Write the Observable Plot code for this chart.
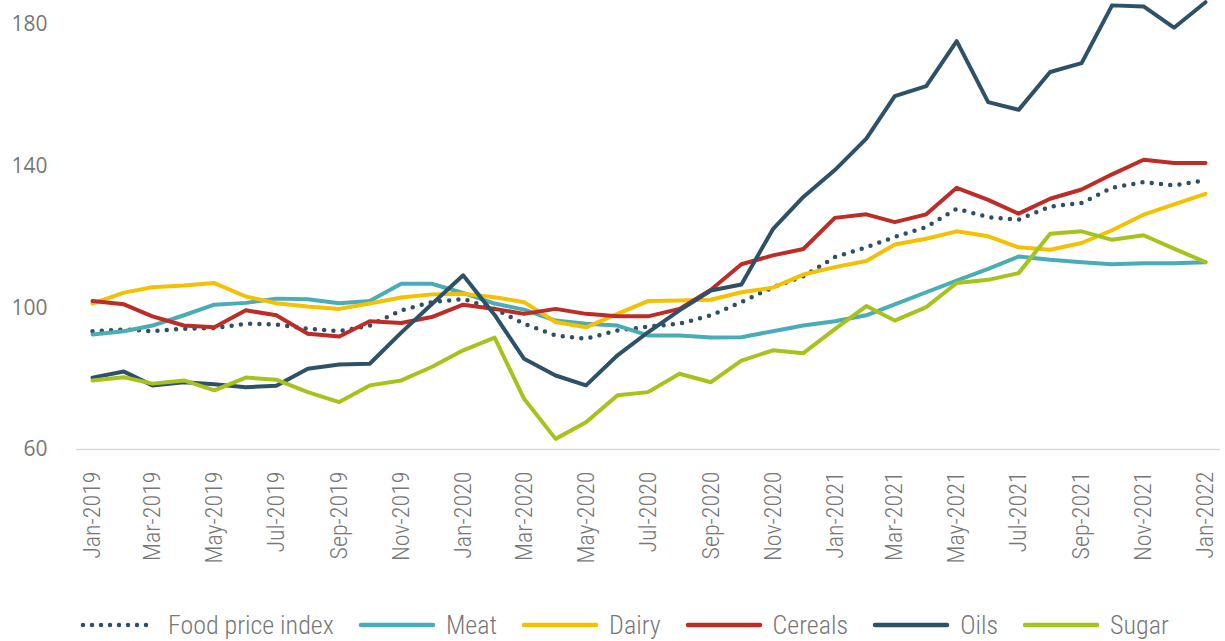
<!DOCTYPE html>
<html>
<head>
<meta charset="utf-8">
<script src="https://cdn.jsdelivr.net/npm/d3@7"></script>
<script src="https://cdn.jsdelivr.net/npm/@observablehq/plot@0.6"></script>
<style>
  html, body { margin: 0; padding: 0; background: #fff; }
  body { width: 1225px; height: 641px; overflow: hidden; position: relative;
         font-family: "Roboto Condensed", "Liberation Sans Narrow", "DejaVu Sans Condensed", sans-serif; font-weight: 300; }
  #chart { position: absolute; left: 0; top: 0; }
  #legend { position: absolute; left: 80px; top: 606px; height: 38px; display: flex; align-items: center;
            font-size: 26px; color: #777; white-space: nowrap; }
  .item { display: flex; align-items: center; margin-right: 24px; }
  .item svg { margin-right: 10px; }
  .yax text { font-family: "Open Sans", "Noto Sans", sans-serif; font-weight: 400; }
</style>
</head>
<body>
<div id="chart"></div>
<div id="legend"></div>
<script>
const months = [
  "2019-01","2019-02","2019-03","2019-04","2019-05","2019-06","2019-07","2019-08","2019-09","2019-10","2019-11","2019-12",
  "2020-01","2020-02","2020-03","2020-04","2020-05","2020-06","2020-07","2020-08","2020-09","2020-10","2020-11","2020-12",
  "2021-01","2021-02","2021-03","2021-04","2021-05","2021-06","2021-07","2021-08","2021-09","2021-10","2021-11","2021-12",
  "2022-01"
];
const tickMonths = ["2019-01","2019-03","2019-05","2019-07","2019-09","2019-11","2020-01","2020-03","2020-05","2020-07","2020-09","2020-11","2021-01","2021-03","2021-05","2021-07","2021-09","2021-11","2022-01"];
const yTicks = [60, 100, 140, 180];

const seriesNames = ["Food price index", "Meat", "Dairy", "Cereals", "Oils", "Sugar"];
const seriesColors = ["#2f4f66", "#4aacb7", "#f3c100", "#bd2c26", "#2f5168", "#a5c41b"];

const foodPriceIndex = [93.4, 93.9, 93.4, 94.1, 94.3, 95.5, 95.3, 94.1, 93.4, 95.0, 99.3, 101.6,
  102.5, 99.7, 95.5, 92.2, 91.3, 93.6, 94.7, 95.5, 97.9, 101.6, 105.8, 108.9,
  114.3, 117.1, 120.0, 122.8, 128.0, 125.6, 124.9, 128.6, 129.6, 133.9, 135.5, 134.6, 136.0];
const meat = [92.5, 93.4, 95.0, 97.9, 100.9, 101.4, 102.6, 102.4, 101.3, 101.9, 106.8, 106.8,
  104.2, 101.2, 99.5, 96.4, 95.5, 95.0, 92.2, 92.2, 91.6, 91.7, 93.4, 95.0,
  96.2, 97.9, 101.0, 104.4, 107.7, 111.0, 114.5, 113.6, 112.9, 112.3, 112.6, 112.6, 112.9];
const dairy = [101.2, 104.3, 105.8, 106.3, 107.0, 103.2, 101.3, 100.4, 99.7, 101.2, 102.9, 103.8,
  104.0, 103.0, 101.6, 96.0, 94.5, 98.3, 101.9, 102.1, 102.3, 104.4, 105.7, 109.4,
  111.5, 113.2, 117.9, 119.5, 121.6, 120.2, 117.1, 116.4, 118.3, 121.9, 126.3, 129.2, 132.2];
const cereals = [101.9, 101.0, 97.6, 95.0, 94.5, 99.3, 97.9, 92.7, 91.9, 96.2, 95.7, 97.4,
  100.9, 99.7, 98.3, 99.7, 98.3, 97.6, 97.6, 99.7, 105.1, 112.3, 114.8, 116.6,
  125.4, 126.4, 124.2, 126.4, 133.9, 130.5, 126.6, 130.8, 133.4, 137.7, 141.8, 140.9, 140.9];
const oils = [80.3, 82.0, 78.1, 79.0, 78.4, 77.6, 78.0, 82.8, 84.0, 84.2, 93.0, 101.0,
  109.2, 98.0, 85.6, 80.9, 78.1, 86.6, 93.1, 99.3, 104.9, 106.6, 122.2, 131.3,
  138.9, 147.8, 159.8, 162.6, 175.3, 158.1, 155.9, 166.6, 169.1, 185.4, 185.1, 179.1, 186.3];
const sugar = [79.5, 80.4, 78.6, 79.5, 76.7, 80.3, 79.7, 76.2, 73.4, 78.1, 79.5, 83.3,
  88.0, 91.6, 74.3, 63.0, 67.7, 75.3, 76.2, 81.4, 79.0, 85.1, 88.0, 87.2,
  94.0, 100.5, 96.4, 100.2, 107.0, 107.9, 109.8, 120.9, 121.6, 119.2, 120.5, 116.7, 112.9];

const seriesValues = [foodPriceIndex, meat, dairy, cereals, oils, sugar];
const parse = d3.utcParse("%Y-%m");

const rows = [];
seriesNames.forEach((name, s) => {
  months.forEach((m, i) => rows.push({ series: name, date: parse(m), value: seriesValues[s][i] }));
});

const lineMarks = seriesNames.map((name, s) =>
  Plot.lineY(rows.filter(r => r.series === name), {
    x: "date", y: "value",
    stroke: seriesColors[s],
    strokeWidth: s === 0 ? 4.5 : 4,
    strokeLinecap: "round",
    strokeLinejoin: "round",
    strokeDasharray: s === 0 ? "0,9.3" : null
  })
);

const chart = Plot.plot({
  width: 1225,
  height: 590,
  marginTop: 24,
  marginBottom: 141,
  marginLeft: 76,
  marginRight: 5,
  style: { fontFamily: '"Roboto Condensed", "Liberation Sans Narrow", "DejaVu Sans Condensed", sans-serif', fontWeight: 300, fontSize: "24px", color: "#777", background: "white" },
  x: { type: "utc", domain: [parse(months[0]), parse(months[months.length - 1])], insetLeft: 16, insetRight: 15 },
  y: { domain: [60, 180] },
  marks: [
    Plot.ruleY([60], { stroke: "#d9d9d9", strokeWidth: 1.5 }),
    Plot.axisY({ ticks: yTicks, tickSize: 0, tickPadding: 29, fontSize: 21, label: null, className: "yax" }),
    Plot.axisX({ ticks: tickMonths.map(parse), tickFormat: d3.utcFormat("%b-%Y"), tickRotate: -90, tickSize: 0, tickPadding: 22, fontSize: 24, label: null }),
    ...lineMarks
  ]
});
document.getElementById("chart").appendChild(chart);

const legend = document.getElementById("legend");
seriesNames.forEach((name, s) => {
  const item = document.createElement("div");
  item.className = "item";
  const sw = d3.create("svg").attr("width", 78).attr("height", 10);
  sw.append("line").attr("x1", 3).attr("x2", 75).attr("y1", 5).attr("y2", 5)
    .attr("stroke", seriesColors[s]).attr("stroke-width", 4.5).attr("stroke-linecap", "round")
    .attr("stroke-dasharray", s === 0 ? "0,9" : null);
  item.appendChild(sw.node());
  const t = document.createElement("span");
  t.textContent = name;
  item.appendChild(t);
  legend.appendChild(item);
});
</script>
</body>
</html>
